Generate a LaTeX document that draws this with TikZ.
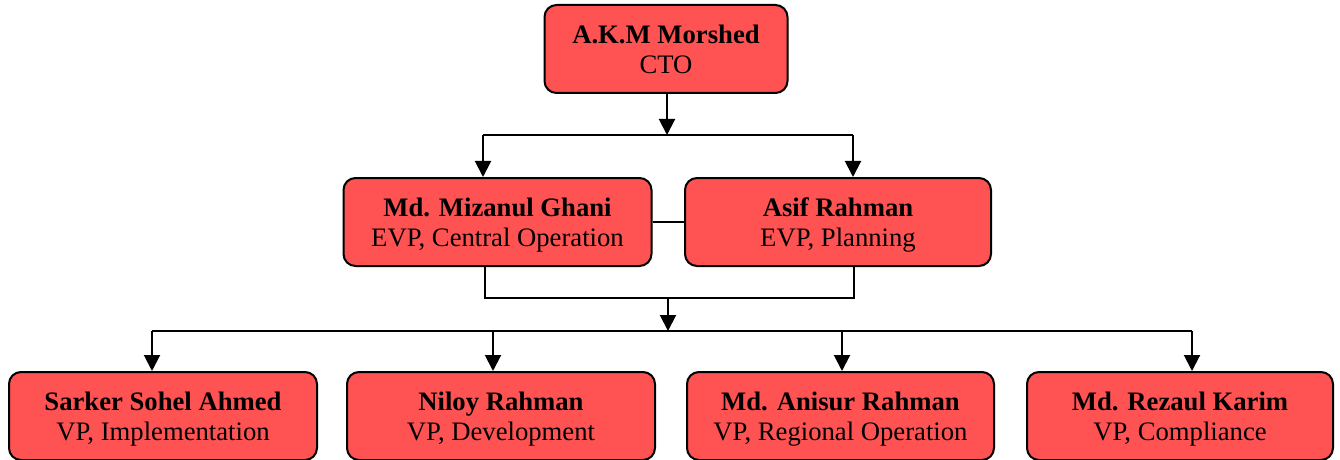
\documentclass[tikz,border=0pt]{standalone}
\usepackage{fontspec}
\setmainfont{Liberation Serif}
\usetikzlibrary{arrows.meta}
\definecolor{boxred}{RGB}{255,82,82}
\newcommand{\pentry}[2]{\rule{0pt}{18.5pt}\textbf{#1}\\#2\rule[-4pt]{0pt}{4pt}}
\begin{document}
\begin{tikzpicture}[x=0.75pt,y=-0.75pt,
  person/.style={draw=black, line width=1.5pt, fill=boxred, rounded corners=9pt,
    minimum width=#1*0.75pt, minimum height=66pt, inner sep=0pt, align=center,
    font=\fontsize{20}{22.5}\selectfont},
  person/.default=307,
  link/.style={draw=black, line width=1.5pt},
  arr/.style={link, -{Triangle[length=12pt,width=12pt]}}]
\useasboundingbox (0,0) rectangle (1340,460);
% nodes
\node[person=243] (cto) at (666,49) {\pentry{A.K.M Morshed}{CTO}};
\node[person=308] (mg) at (497.5,222) {\pentry{Md. Mizanul Ghani}{EVP, Central Operation}};
\node[person=306] (ar) at (838,222) {\pentry{Asif Rahman}{EVP, Planning}};
\node[person=308] (ss) at (163,416) {\pentry{Sarker Sohel Ahmed}{VP, Implementation}};
\node[person=308] (nr) at (501,416) {\pentry{Niloy Rahman}{VP, Development}};
\node[person=307] (an) at (840.5,416) {\pentry{Md. Anisur Rahman}{VP, Regional Operation}};
\node[person=306] (rk) at (1180,416) {\pentry{Md. Rezaul Karim}{VP, Compliance}};
% junction coordinates
\coordinate (j1) at (667,135);
\coordinate (j1l) at (483,135);
\coordinate (j1r) at (853,135);
\coordinate (j2l) at (485,298);
\coordinate (j2r) at (854,298);
\coordinate (j2) at (668,298);
\coordinate (j3) at (668,331);
\coordinate (j3a) at (152,331);
\coordinate (j3b) at (493,331);
\coordinate (j3c) at (842,331);
\coordinate (j3d) at (1192,331);
% connectors
\draw[arr] (cto.south -| j1) -- (j1);
\draw[link] (j1l) -- (j1r);
\draw[arr] (j1l) -- (j1l |- mg.north);
\draw[arr] (j1r) -- (j1r |- ar.north);
\draw[link] (mg.east) -- (ar.west);
\draw[link] (mg.south -| j2l) -- (j2l) -- (j2r) -- (ar.south -| j2r);
\draw[arr] (j2) -- (j3);
\draw[link] (j3a) -- (j3d);
\draw[arr] (j3a) -- (j3a |- ss.north);
\draw[arr] (j3b) -- (j3b |- nr.north);
\draw[arr] (j3c) -- (j3c |- an.north);
\draw[arr] (j3d) -- (j3d |- rk.north);
\end{tikzpicture}
\end{document}
